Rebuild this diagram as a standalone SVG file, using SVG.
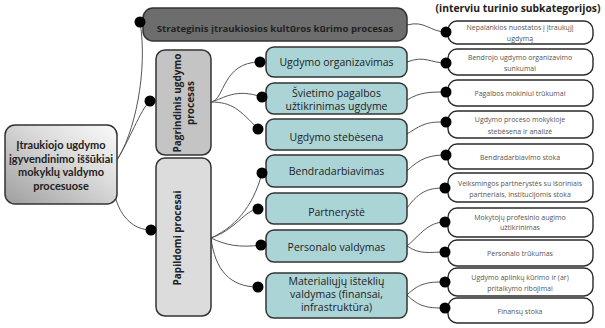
<svg xmlns="http://www.w3.org/2000/svg" width="605" height="328" viewBox="0 0 605 328">
<defs>
<linearGradient id="rootGrad" x1="0" y1="1" x2="1" y2="0">
<stop offset="0" stop-color="#9e9e9e"/>
<stop offset="0.6" stop-color="#dcdcdc"/>
<stop offset="1" stop-color="#fafafa"/>
</linearGradient>
</defs>
<style>
.box{stroke:#333;stroke-width:1.5}
.teal{fill:#abd4d7}
.leaf{fill:#fff;stroke:#2a2a2a;stroke-width:1.4}
.conn{fill:none;stroke:#555;stroke-width:1}
.dot{fill:#000}
.tt{font-family:"Open Sans","Noto Sans",sans-serif;font-size:10.5px;fill:#222;text-anchor:middle}
.lt{font-family:"Open Sans","Noto Sans",sans-serif;font-size:7px;fill:#555;text-anchor:middle}
.bt{font-family:"Open Sans","Noto Sans",sans-serif;font-weight:bold;fill:#222;text-anchor:middle}
.rt{font-family:Lato,"Open Sans",sans-serif;font-weight:bold;font-size:11px;fill:#222;text-anchor:middle}
</style>

<text class="bt" x="518" y="12" font-size="10.3">(interviu turinio subkategorijos)</text>

<g id="connectors">
<path class="conn" d="M115,163 C135,135 148,70 140,22"/>
<path class="conn" d="M115,163 C130,140 140,110 150,101"/>
<path class="conn" d="M115,165 C108,200 125,230 151,230"/>
<path class="conn" d="M211,102 C225,100 222,62 260,62"/>
<path class="conn" d="M211,102 C225,98 235,88 262,97"/>
<path class="conn" d="M211,102 C232,102 240,110 258,129"/>
<path class="conn" d="M211,238 C240,225 255,200 262,173"/>
<path class="conn" d="M211,238 C235,230 245,210 258,209"/>
<path class="conn" d="M211,238 C225,245 240,248 261,245"/>
<path class="conn" d="M211,238 C215,270 230,287 258,287"/>
<path class="conn" d="M407,25 C425,20 430,32 446,32"/>
<path class="conn" d="M407,62 C425,55 430,63 446,63"/>
<path class="conn" d="M407,100 C420,92 430,92 446,92"/>
<path class="conn" d="M407,134 C425,122 430,122 446,122"/>
<path class="conn" d="M407,171 C420,158 430,155 446,155"/>
<path class="conn" d="M407,208 C420,190 430,188 445,188"/>
<path class="conn" d="M407,246 C420,235 428,222 445,222"/>
<path class="conn" d="M407,246 C420,255 430,252 445,252"/>
<path class="conn" d="M407,295 C420,282 430,282 445,282"/>
<path class="conn" d="M407,295 C420,308 430,308 445,308"/>
</g>

<g id="root">
<rect class="box" x="5" y="125" width="112" height="79" rx="10" fill="url(#rootGrad)"/>
<text class="rt" x="61" y="149">Įtraukiojo ugdymo</text>
<text class="rt" x="61" y="163">įgyvendinimo iššūkiai</text>
<text class="rt" x="61" y="176">mokyklų valdymo</text>
<text class="rt" x="61" y="190">procesuose</text>
</g>

<g id="strategic">
<rect class="box" x="143" y="8" width="264" height="33" rx="10" fill="#6d6d6d"/>
<text class="bt" x="275" y="31.5" font-size="9.6">Strateginis įtraukiosios kultūros kūrimo procesas</text>
<circle class="dot" cx="140" cy="22" r="5.5"/>
</g>

<g id="pagrindinis">
<rect class="box" x="156" y="50" width="55" height="105" rx="9" fill="#c4c4c4"/>
<g transform="translate(183.5,103) rotate(-90)">
<text class="bt" x="0" y="-3" font-size="10">Pagrindinis ugdymo</text>
<text class="bt" x="0" y="10" font-size="10">procesas</text>
</g>
<circle class="dot" cx="150" cy="101" r="5.5"/>
</g>

<g id="papildomi">
<rect class="box" x="156" y="158" width="55" height="158" rx="9" fill="#dcdcdc"/>
<text class="bt" font-size="10" transform="translate(177,238) rotate(-90)" x="0" y="3.5">Papildomi procesai</text>
<circle class="dot" cx="151" cy="230" r="5.5"/>
</g>

<g id="t1">
<rect class="box teal" x="266" y="47" width="141" height="30" rx="8"/>
<text class="tt" x="336.5" y="66">Ugdymo organizavimas</text>
<circle class="dot" cx="260" cy="62" r="5.5"/>
</g>
<g id="t2">
<rect class="box teal" x="266" y="83" width="141" height="31" rx="8"/>
<text class="tt" x="336.5" y="96.5">Švietimo pagalbos</text>
<text class="tt" x="336.5" y="109.5">užtikrinimas ugdyme</text>
<circle class="dot" cx="262" cy="97" r="5.5"/>
</g>
<g id="t3">
<rect class="box teal" x="266" y="119" width="141" height="31" rx="8"/>
<text class="tt" x="336.5" y="140.5">Ugdymo stebėsena</text>
<circle class="dot" cx="258" cy="129" r="5.5"/>
</g>
<g id="t4">
<rect class="box teal" x="266" y="155" width="141" height="32" rx="8"/>
<text class="tt" x="336.5" y="174.5">Bendradarbiavimas</text>
<circle class="dot" cx="262" cy="173" r="5.5"/>
</g>
<g id="t5">
<rect class="box teal" x="266" y="193" width="141" height="31" rx="8"/>
<text class="tt" x="336.5" y="215.5">Partnerystė</text>
<circle class="dot" cx="258" cy="209" r="5.5"/>
</g>
<g id="t6">
<rect class="box teal" x="266" y="230" width="141" height="32" rx="8"/>
<text class="tt" x="336.5" y="250.5">Personalo valdymas</text>
<circle class="dot" cx="261" cy="245" r="5.5"/>
</g>
<g id="t7">
<rect class="box teal" x="266" y="273" width="141" height="45" rx="8"/>
<text class="tt" x="336.5" y="284.5">Materialiųjų išteklių</text>
<text class="tt" x="336.5" y="297.5">valdymas (finansai,</text>
<text class="tt" x="336.5" y="310.5">infrastruktūra)</text>
<circle class="dot" cx="258" cy="287" r="5.5"/>
</g>

<g id="l1">
<rect class="leaf" x="448" y="21" width="145" height="23" rx="9"/>
<text class="lt" x="520" y="29.5">Nepalankios nuostatos į įtraukųjį</text>
<text class="lt" x="520" y="40.5">ugdymą</text>
<circle class="dot" cx="446" cy="32" r="5.5"/>
</g>
<g id="l2">
<rect class="leaf" x="448" y="49" width="145" height="26" rx="9"/>
<text class="lt" x="520" y="59.5">Bendrojo ugdymo organizavimo</text>
<text class="lt" x="520" y="70.5">sunkumai</text>
<circle class="dot" cx="446" cy="63" r="5.5"/>
</g>
<g id="l3">
<rect class="leaf" x="448" y="80" width="145" height="26" rx="9"/>
<text class="lt" x="520" y="95.5">Pagalbos mokiniui trūkumai</text>
<circle class="dot" cx="446" cy="92" r="5.5"/>
</g>
<g id="l4">
<rect class="leaf" x="448" y="111" width="145" height="27" rx="9"/>
<text class="lt" x="520" y="121.5">Ugdymo proceso mokykloje</text>
<text class="lt" x="520" y="133.5">stebėsena ir analizė</text>
<circle class="dot" cx="446" cy="122" r="5.5"/>
</g>
<g id="l5">
<rect class="leaf" x="448" y="144" width="145" height="25" rx="9"/>
<text class="lt" x="520" y="159.5">Bendradarbiavimo stoka</text>
<circle class="dot" cx="446" cy="155" r="5.5"/>
</g>
<g id="l6">
<rect class="leaf" x="448" y="173" width="145" height="29" rx="9"/>
<text class="lt" x="520" y="185.5" font-size="6.6">Veiksmingos partnerystės su išoriniais</text>
<text class="lt" x="520" y="196.5" font-size="6.6">partneriais, institucijomis stoka</text>
<circle class="dot" cx="445" cy="188" r="5.5"/>
</g>
<g id="l7">
<rect class="leaf" x="448" y="208" width="145" height="29" rx="9"/>
<text class="lt" x="520" y="219.5">Mokytojų profesinio augimo</text>
<text class="lt" x="520" y="229.5">užtikrinimas</text>
<circle class="dot" cx="445" cy="222" r="5.5"/>
</g>
<g id="l8">
<rect class="leaf" x="448" y="240" width="145" height="26" rx="9"/>
<text class="lt" x="520" y="255.5">Personalo trūkumas</text>
<circle class="dot" cx="445" cy="252" r="5.5"/>
</g>
<g id="l9">
<rect class="leaf" x="448" y="268" width="145" height="28" rx="9"/>
<text class="lt" x="520" y="279.5">Ugdymo aplinkų kūrimo ir (ar)</text>
<text class="lt" x="520" y="290.5">pritaikymo ribojimai</text>
<circle class="dot" cx="445" cy="282" r="5.5"/>
</g>
<g id="l10">
<rect class="leaf" x="448" y="298" width="145" height="25" rx="9"/>
<text class="lt" x="520" y="313.5">Finansų stoka</text>
<circle class="dot" cx="445" cy="308" r="5.5"/>
</g>
</svg>
